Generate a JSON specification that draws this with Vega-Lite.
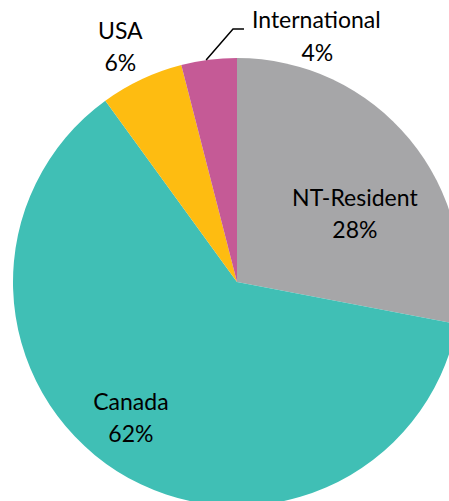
{
  "$schema": "https://vega.github.io/schema/vega-lite/v6.json",
  "width": 449,
  "height": 501,
  "autosize": "none",
  "padding": 0,
  "background": "white",
  "config": {"view": {"stroke": null}, "text": {"font": "Lato", "fontSize": 23, "color": "black"}},
  "datasets": {
    "shares": [
      {"k": 1, "name": "NT-Resident", "v": 0.28},
      {"k": 2, "name": "Canada", "v": 0.62},
      {"k": 3, "name": "USA", "v": 0.06},
      {"k": 4, "name": "International", "v": 0.04}
    ],
    "leader": [
      {"u": -0.138, "w": 0.991},
      {"u": -0.018, "w": 1.129},
      {"u": 0.031, "w": 1.129}
    ]
  },
  "layer": [
    {
      "data": {"name": "shares"},
      "mark": {"type": "arc", "outerRadius": 224, "x": 237, "y": 282},
      "encoding": {
        "theta": {"field": "v", "type": "quantitative", "stack": true, "scale": {"domain": [0, 1]}},
        "order": {"field": "k", "type": "quantitative"},
        "color": {"field": "name", "type": "nominal", "legend": null,
          "scale": {"domain": ["NT-Resident", "Canada", "USA", "International"],
                    "range": ["#A6A6A8", "#40BFB5", "#FEBC11", "#C55A96"]}}
      }
    },
    {
      "data": {"name": "shares"},
      "mark": {"type": "text", "x": 237, "y": 282, "radius": 140, "dx": 10, "dy": 6, "align": "center", "baseline": "middle"},
      "encoding": {
        "theta": {"field": "v", "type": "quantitative", "stack": true, "scale": {"domain": [0, 1]}},
        "order": {"field": "k", "type": "quantitative"},
        "text": {"condition": {"test": "datum.name === 'NT-Resident'", "field": "name"}, "value": ""}
      }
    },
    {
      "data": {"name": "shares"},
      "mark": {"type": "text", "x": 237, "y": 282, "radius": 140, "dx": 10, "dy": 38, "align": "center", "baseline": "middle"},
      "encoding": {
        "theta": {"field": "v", "type": "quantitative", "stack": true, "scale": {"domain": [0, 1]}},
        "order": {"field": "k", "type": "quantitative"},
        "text": {"condition": {"test": "datum.name === 'NT-Resident'", "field": "v", "type": "quantitative", "format": ".0%"}, "value": ""}
      }
    },
    {
      "data": {"name": "shares"},
      "mark": {"type": "text", "x": 237, "y": 282, "radius": 170, "dx": -15, "dy": -22.5, "align": "center", "baseline": "middle"},
      "encoding": {
        "theta": {"field": "v", "type": "quantitative", "stack": true, "scale": {"domain": [0, 1]}},
        "order": {"field": "k", "type": "quantitative"},
        "text": {"condition": {"test": "datum.name === 'Canada'", "field": "name"}, "value": ""}
      }
    },
    {
      "data": {"name": "shares"},
      "mark": {"type": "text", "x": 237, "y": 282, "radius": 170, "dx": -15, "dy": 9.5, "align": "center", "baseline": "middle"},
      "encoding": {
        "theta": {"field": "v", "type": "quantitative", "stack": true, "scale": {"domain": [0, 1]}},
        "order": {"field": "k", "type": "quantitative"},
        "text": {"condition": {"test": "datum.name === 'Canada'", "field": "v", "type": "quantitative", "format": ".0%"}, "value": ""}
      }
    },
    {
      "data": {"name": "shares"},
      "mark": {"type": "text", "x": 237, "y": 282, "radius": 260, "dx": -6, "dy": -14.3, "align": "center", "baseline": "middle"},
      "encoding": {
        "theta": {"field": "v", "type": "quantitative", "stack": true, "scale": {"domain": [0, 1]}},
        "order": {"field": "k", "type": "quantitative"},
        "text": {"condition": {"test": "datum.name === 'USA'", "field": "name"}, "value": ""}
      }
    },
    {
      "data": {"name": "shares"},
      "mark": {"type": "text", "x": 237, "y": 282, "radius": 260, "dx": -6, "dy": 17.2, "align": "center", "baseline": "middle"},
      "encoding": {
        "theta": {"field": "v", "type": "quantitative", "stack": true, "scale": {"domain": [0, 1]}},
        "order": {"field": "k", "type": "quantitative"},
        "text": {"condition": {"test": "datum.name === 'USA'", "field": "v", "type": "quantitative", "format": ".0%"}, "value": ""}
      }
    },
    {
      "data": {"name": "shares"},
      "mark": {"type": "text", "x": 237, "y": 282, "radius": 245, "dx": 110, "dy": -18.2, "align": "center", "baseline": "middle"},
      "encoding": {
        "theta": {"field": "v", "type": "quantitative", "stack": true, "scale": {"domain": [0, 1]}},
        "order": {"field": "k", "type": "quantitative"},
        "text": {"condition": {"test": "datum.name === 'International'", "field": "name"}, "value": ""}
      }
    },
    {
      "data": {"name": "shares"},
      "mark": {"type": "text", "x": 237, "y": 282, "radius": 245, "dx": 111, "dy": 14.8, "align": "center", "baseline": "middle"},
      "encoding": {
        "theta": {"field": "v", "type": "quantitative", "stack": true, "scale": {"domain": [0, 1]}},
        "order": {"field": "k", "type": "quantitative"},
        "text": {"condition": {"test": "datum.name === 'International'", "field": "v", "type": "quantitative", "format": ".0%"}, "value": ""}
      }
    },
    {
      "data": {"name": "leader"},
      "mark": {"type": "line", "color": "black", "strokeWidth": 1.5},
      "encoding": {
        "x": {"field": "u", "type": "quantitative", "axis": null, "scale": {"domain": [-1.058, 0.946], "nice": false, "zero": false}},
        "y": {"field": "w", "type": "quantitative", "axis": null, "scale": {"domain": [-0.978, 1.259], "nice": false, "zero": false}}
      }
    }
  ]
}
